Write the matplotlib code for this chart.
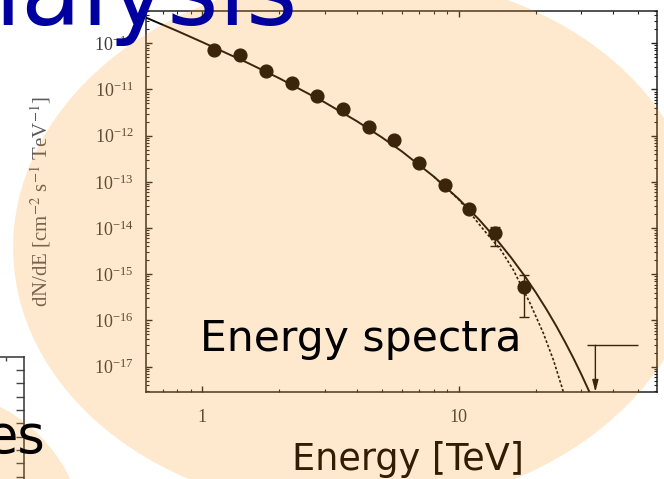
import numpy as np
import matplotlib
matplotlib.use("Agg")
import matplotlib.pyplot as plt
from matplotlib.patches import Ellipse, Circle
from matplotlib.ticker import LogLocator, NullFormatter, FixedLocator

W, H = 664, 479

# flux points, E in TeV, dN/dE in cm^-2 s^-1 TeV^-1
energy = [1.11, 1.40, 1.77, 2.23, 2.81, 3.53, 4.45, 5.59, 7.00, 8.81, 11.0, 13.9, 17.9]
flux = [7.2e-11, 5.6e-11, 2.5e-11, 1.36e-11, 7.4e-12, 3.7e-12, 1.54e-12,
        7.9e-13, 2.5e-13, 8.6e-14, 2.55e-14, 7.7e-15, 5.4e-16]
# only the two highest bins have error bars wider than the marker
err_lo = [4.1e-15, 1.2e-16]
err_hi = [1.06e-14, 9.7e-16]

# upper limit bin
ul_energy = 34.1
ul_flux = 2.9e-17
ul_bin = [31.6, 49.9]

# fitted spectrum (solid) and alternative fit (dotted)
fit_e = [0.605, 0.8, 1.0, 1.5, 2, 3, 4, 5, 6, 8, 10, 12, 14, 16, 18, 20,
         22, 24, 26, 28, 30, 32, 33]
fit_f = [3.57e-10, 1.84e-10, 1.06e-10, 3.79e-11, 1.74e-11, 5.28e-12, 2.07e-12,
         9.29e-13, 4.57e-13, 1.30e-13, 4.26e-14, 1.53e-14, 5.80e-15, 2.30e-15,
         9.48e-16, 4.00e-16, 1.73e-16, 7.60e-17, 3.38e-17, 1.53e-17, 6.99e-18,
         3.21e-18, 2.2e-18]
alt_e = [8, 10, 11.24, 12.5, 13.86, 14.57, 16.33, 18.97, 21.38, 23.39, 25.22, 25.7]
alt_f = [1.29e-13, 4.15e-14, 1.92e-14, 9.2e-15, 4.69e-15, 3.41e-15, 1.24e-15,
         2.36e-16, 5.28e-17, 1.40e-17, 3.69e-18, 2.6e-18]

x_ticks = [1, 10]
x_ticklabels = ["1", "10"]

plt.rcParams["font.family"] = ["Liberation Serif", "DejaVu Serif"]
plt.rcParams["mathtext.fontset"] = "stix"

fig = plt.figure(figsize=(W / 100, H / 100), dpi=100)
fig.patch.set_facecolor("white")


def box(l, t, r, b):
    """pixel box (from top-left) -> figure fraction rect"""
    return [l / W, 1 - b / H, (r - l) / W, (b - t) / H]


# ---- spectrum panel --------------------------------------------------------
ax = fig.add_axes(box(146.3, 11, 657, 392), zorder=1)
ax.set_xscale("log")
ax.set_yscale("log")
ax.set_xlim(0.605, 59.3)
ax.set_ylim(2.83e-18, 5.0e-10)

ink = "#0a0a0a"
ax.plot(fit_e, fit_f, color=ink, lw=1.4, zorder=3)
ax.plot(alt_e, alt_f, color=ink, lw=1.2, ls=(0, (1.6, 1.2)), zorder=3)
ax.plot(energy, flux, "o", color=ink, ms=9.2, mec=ink, zorder=4)

lo = np.array(flux[-2:]) - np.array(err_lo)
hi = np.array(err_hi) - np.array(flux[-2:])
ax.errorbar(energy[-2:], flux[-2:], yerr=[lo, hi], fmt="none",
            ecolor=ink, elinewidth=1.0, capsize=3.5, capthick=1.0, zorder=3)

ax.hlines(ul_flux, ul_bin[0], ul_bin[1], color=ink, lw=1.0, zorder=3)
ax.annotate("", xy=(ul_energy, ax.get_ylim()[0]), xytext=(ul_energy, ul_flux),
            arrowprops=dict(arrowstyle="-|>,head_length=0.7,head_width=0.18",
                            color=ink, lw=1.0, shrinkA=0, shrinkB=0), zorder=3)

ax.xaxis.set_major_locator(FixedLocator(x_ticks))
ax.set_xticklabels(x_ticklabels)
ax.xaxis.set_minor_locator(LogLocator(base=10, subs=np.arange(2, 10)))
ax.xaxis.set_minor_formatter(NullFormatter())
ax.yaxis.set_major_locator(LogLocator(base=10, numticks=20))
ax.yaxis.set_minor_locator(LogLocator(base=10, subs=np.arange(2, 10), numticks=20))
ax.yaxis.set_minor_formatter(NullFormatter())

ax.tick_params(which="both", direction="in", top=True, right=True,
               colors="#222222", labelcolor="#3c3c3c", labelsize=13)
ax.tick_params(which="major", length=4, width=1.0)
ax.tick_params(which="minor", length=2, width=0.8)
ax.tick_params(axis="x", which="major", pad=12)
ax.tick_params(axis="y", which="major", pad=9)
for s in ax.spines.values():
    s.set_color("#222222")
    s.set_linewidth(1.1)

ax.set_ylabel(r"dN/dE [cm$^{-2}$ s$^{-1}$ TeV$^{-1}$]", fontsize=15,
              color="#5a5a5a")
ax.yaxis.set_label_coords(-0.182, 0.5)

# ---- edge of the neighbouring panel, bottom left -----------------------------
side = fig.add_axes(box(-60, 356.7, 24.3, 519), zorder=1)
side.set_facecolor("none")
side.set_xlim(0, 1)
side.set_ylim(12.17, 0)
side.spines["left"].set_visible(False)
side.spines["bottom"].set_visible(False)
for s in ("top", "right"):
    side.spines[s].set_color("#333333")
    side.spines[s].set_linewidth(1.1)
side.yaxis.tick_right()
side.xaxis.tick_top()
side.set_yticks(np.arange(1, 13))
side.set_xticks([0.78])
side.tick_params(axis="y", direction="in", length=6, width=1, colors="#444444",
                 labelright=False)
side.tick_params(axis="x", direction="in", length=3, width=1, colors="#444444",
                 labeltop=False)

fig.text(291.7 / W, 1 - 470 / H, "Energy [TeV]", family="DejaVu Sans",
         fontsize=26.4, color="black", ha="left", va="baseline", zorder=2)

# ---- translucent highlight shapes ------------------------------------------
ov = fig.add_axes([0, 0, 1, 1], zorder=5)
ov.set_xlim(0, W)
ov.set_ylim(H, 0)
ov.axis("off")
ov.patch.set_alpha(0)
glow = "#ff950e"
ov.add_patch(Ellipse((357, 243), 688, 536, angle=-2, fc=glow, alpha=0.2, lw=0))
ov.add_patch(Circle((-70, 545), 155, fc=glow, alpha=0.2, lw=0))

# ---- slide text on top -------------------------------------------------------
fig.text(298 / W, 1 - 25 / H, "Analysis", family="DejaVu Sans", fontsize=71,
         color="#0000a0", ha="right", va="baseline", zorder=10)
fig.text(200 / W, 1 - 350.7 / H, "Energy spectra", family="DejaVu Sans",
         fontsize=30.6, color="black", ha="left", va="baseline", zorder=10)
fig.text(45 / W, 1 - 453 / H, "es", family="DejaVu Sans", fontsize=38,
         color="black", ha="right", va="baseline", zorder=10)

fig.savefig("out.png", dpi=100)
